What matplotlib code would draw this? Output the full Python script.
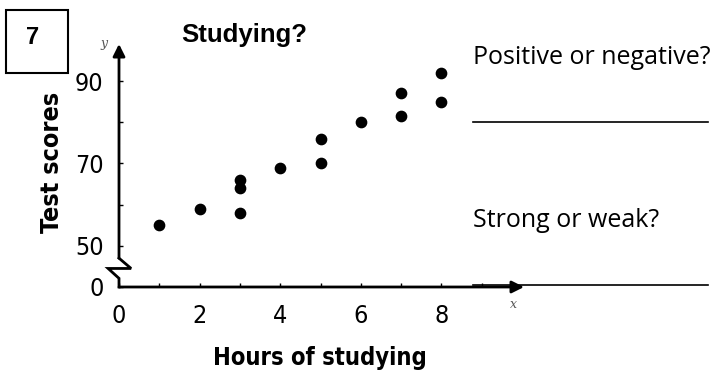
import matplotlib.pyplot as plt
from matplotlib.patches import Rectangle

# hours studied vs test score
hours = [1, 2, 3, 3, 3, 4, 5, 5, 6, 7, 7, 8, 8]
scores = [55, 59, 58, 64, 66, 69, 70, 76, 80, 81.5, 87, 85, 92]

x_ticks = [0, 2, 4, 6, 8]
y_ticks = [40, 50, 70, 90]          # 40 sits at the broken-axis origin
y_tick_labels = ['0', '50', '70', '90']

W, H = 723, 377
fig = plt.figure(figsize=(W / 100, H / 100), dpi=100)

# axes box in pixels: x 0..10 -> 119..522, y 40..99 -> 287..44
x0, x1 = 119, 522
y0, y1 = 287, 44
ax = fig.add_axes([x0 / W, 1 - y0 / H, (x1 - x0) / W, (y0 - y1) / H])
ax.set_xlim(0, 10)
ax.set_ylim(40, 99)
for s in ax.spines.values():
    s.set_visible(False)

cond = dict(family='DejaVu Sans', fontstretch='condensed')

ax.set_xticks(x_ticks)
ax.set_xticklabels([str(t) for t in x_ticks], fontsize=18, **cond)
ax.set_xticks(range(1, 10), minor=True)
ax.set_yticks(y_ticks)
ax.set_yticklabels(y_tick_labels, fontsize=18, **cond)
ax.set_yticks([60, 80], minor=True)
ax.tick_params(axis='x', which='both', direction='in', length=3, width=1, pad=12)
ax.tick_params(axis='y', which='both', direction='in', length=3, width=1, pad=11)

# axes with arrow heads and a broken y-axis
ax.annotate('', xy=(10.05, 40), xytext=(0, 40),
            arrowprops=dict(arrowstyle='-|>', lw=2, color='black',
                            mutation_scale=18, shrinkA=0, shrinkB=0),
            annotation_clip=False)
ax.annotate('', xy=(0, 99), xytext=(0, 47),
            arrowprops=dict(arrowstyle='-|>', lw=2, color='black',
                            mutation_scale=18, shrinkA=0, shrinkB=0),
            annotation_clip=False)
ax.plot([0, 0.3, -0.27, 0, 0], [47, 44.5, 44.5, 42.1, 40],
        color='black', lw=2, clip_on=False, solid_joinstyle='miter')

ax.scatter(hours, scores, s=55, color='black', zorder=3, clip_on=False)

fig.text(320 / W, 1 - 358 / H, 'Hours of studying', fontweight='bold',
         fontsize=17, ha='center', va='center', **cond)
fig.text(52 / W, 1 - 162 / H, 'Test scores', fontweight='bold',
         fontsize=18, rotation=90, ha='center', va='center', **cond)

fig.text(104 / W, 1 - 44 / H, 'y', family='DejaVu Serif', style='italic',
         fontsize=9, color='#555555', ha='center', va='center')
fig.text(513 / W, 1 - 304 / H, 'x', family='DejaVu Serif', style='italic',
         fontsize=9, color='#555555', ha='center', va='center')

fig.text(244 / W, 1 - 42 / H, 'Studying?', family='Liberation Sans',
         fontweight='bold', fontsize=18.5, ha='center', va='baseline')

# problem number box
fig.add_artist(Rectangle((6 / W, 1 - 73 / H), 62 / W, 63 / H, fill=False,
                         lw=1.5, edgecolor='black', transform=fig.transFigure))
fig.text(33 / W, 1 - 38 / H, '7', family='Liberation Sans',
         fontweight='bold', fontsize=17, ha='center', va='center')

# questions with answer lines
fig.text(473 / W, 1 - 58 / H, 'Positive or negative?', family='Open Sans',
         fontsize=18, ha='left', va='center')
fig.text(473 / W, 1 - 221 / H, 'Strong or weak?', family='Open Sans',
         fontsize=18, ha='left', va='center')
for yy in (122, 285):
    fig.add_artist(plt.Line2D([473 / W, 708 / W], [1 - yy / H, 1 - yy / H],
                              color='black', lw=1.2))

fig.savefig('out.png', dpi=100)
